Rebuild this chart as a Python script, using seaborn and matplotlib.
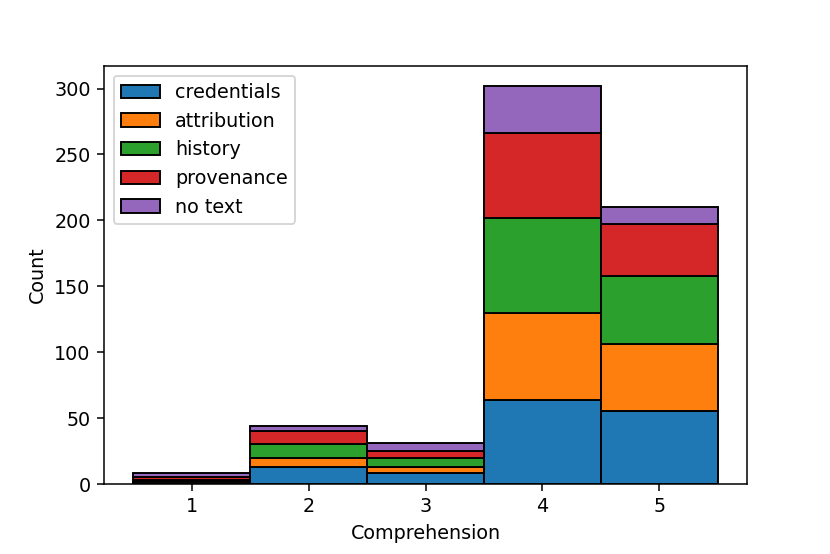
import pandas as pd
import matplotlib
matplotlib.use("Agg")
import matplotlib.pyplot as plt
import seaborn as sns
from matplotlib.patches import Patch

# Comprehension scores and counts per text condition
scores = [1, 2, 3, 4, 5]
conditions = ['credentials', 'attribution', 'history', 'provenance', 'no text']
credentials = [1, 13, 8, 64, 55]
attribution = [1, 7, 5, 66, 51]
history = [1, 10, 7, 72, 52]
provenance = [2, 10, 5, 64, 39]
no_text = [3, 4, 6, 36, 13]

colors = ['#1f77b4', '#ff7f0e', '#2ca02c', '#d62728', '#9467bd']

rows = []
for name, vals in zip(conditions, [credentials, attribution, history, provenance, no_text]):
    for s, v in zip(scores, vals):
        rows.append({'Comprehension': s, 'condition': name, 'n': v})
df = pd.DataFrame(rows)

palette = dict(zip(conditions, colors))

dpi = 138
fig = plt.figure(figsize=(830 / dpi, 554 / dpi), dpi=dpi)
ax = fig.add_axes([104 / 830, 70 / 554, (747 - 104) / 830, (484 - 66) / 554])

# seaborn puts the last hue level at the bottom of the stack
sns.histplot(data=df, x='Comprehension', hue='condition', weights='n',
             hue_order=conditions[::-1], palette=palette, discrete=True,
             multiple='stack', alpha=1, edgecolor='black', linewidth=1,
             legend=False, ax=ax)

handles = [Patch(facecolor=c, edgecolor='black', label=n) for n, c in zip(conditions, colors)]
ax.legend(handles=handles, loc='upper left')

ax.set_xticks(scores)
ax.set_xlabel('Comprehension')
ax.set_ylabel('Count')

fig.savefig('out.png', dpi=dpi)
